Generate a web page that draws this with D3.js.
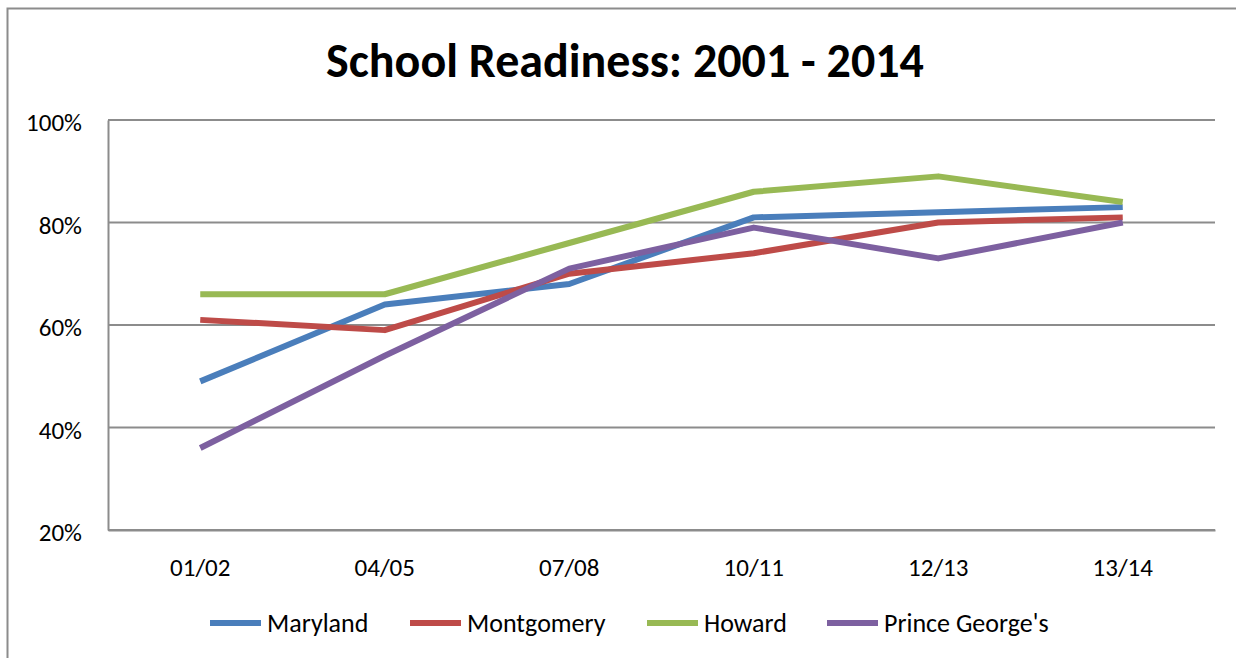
<!DOCTYPE html>
<html>
<head>
<meta charset="utf-8">
<script src="https://cdn.jsdelivr.net/npm/d3@7"></script>
<style>
  body { margin: 0; background: #fff; }
  svg { display: block; font-family: Carlito, "Liberation Sans Narrow", "Liberation Sans", sans-serif; }
</style>
</head>
<body>
<div id="root"></div>
<script>
const years = ["01/02", "04/05", "07/08", "10/11", "12/13", "13/14"];
const maryland = [49, 64, 68, 81, 82, 83];
const montgomery = [61, 59, 70, 74, 80, 81];
const howard = [66, 66, 76, 86, 89, 84];
const princeGeorges = [36, 54, 71, 79, 73, 80];
const yTicks = [20, 40, 60, 80, 100];

const seriesNames = ["Maryland", "Montgomery", "Howard", "Prince George's"];
const seriesValues = [maryland, montgomery, howard, princeGeorges];
const colors = ["#4a7ebb", "#be4b48", "#98b954", "#7d60a0"];

const W = 1236, H = 658;
const margin = { top: 120, right: 21, bottom: 128, left: 108 };
const width = W - margin.left - margin.right;
const height = H - margin.top - margin.bottom;

const svg = d3.select("#root").append("svg")
  .attr("width", W)
  .attr("height", H);

// outer chart border (only top and left show in the crop)
svg.append("path")
  .attr("d", `M7.5,${H} V8.5 H${W}`)
  .attr("fill", "none")
  .attr("stroke", "#8c8c8c")
  .attr("stroke-width", 2);

svg.append("text")
  .attr("x", 625)
  .attr("y", 77)
  .attr("text-anchor", "middle")
  .attr("font-size", 48)
  .attr("font-weight", "bold")
  .text("School Readiness: 2001 - 2014");

const x = d3.scaleBand().domain(years).range([margin.left, margin.left + width]);
const y = d3.scaleLinear().domain([20, 100]).range([margin.top + height, margin.top]);

// gridlines
svg.append("g").selectAll("line").data(yTicks).enter().append("line")
  .attr("x1", margin.left).attr("x2", margin.left + width)
  .attr("y1", d => y(d)).attr("y2", d => y(d))
  .attr("stroke", "#8c8c8c").attr("stroke-width", 2);

// y axis
const yAxis = d3.axisLeft(y).tickValues(yTicks).tickFormat(d => d + "%").tickSize(0).tickPadding(26);
const ya = svg.append("g").attr("transform", `translate(${margin.left},0)`).call(yAxis)
  .attr("font-family", null).attr("font-size", 25);
ya.select(".domain").attr("stroke", "#8c8c8c").attr("stroke-width", 2);
ya.selectAll("text").attr("fill", "#000").attr("dy", "0.42em");

// x axis
const xAxis = d3.axisBottom(x).tickSize(0).tickPadding(28);
const xa = svg.append("g").attr("transform", `translate(0,${margin.top + height})`).call(xAxis)
  .attr("font-family", null).attr("font-size", 25);
xa.select(".domain").attr("stroke", "#8c8c8c").attr("stroke-width", 2);
xa.selectAll("text").attr("fill", "#000");

// lines
const line = d3.line()
  .x((d, i) => x(years[i]) + x.bandwidth() / 2)
  .y(d => y(d));

svg.append("g").selectAll("path").data(seriesValues).enter().append("path")
  .attr("d", d => line(d))
  .attr("fill", "none")
  .attr("stroke", (d, i) => colors[i])
  .attr("stroke-width", 6)
  .attr("stroke-linejoin", "round");

// legend
const legendX = [210, 410, 647, 827];
const legend = svg.append("g").selectAll("g").data(seriesNames).enter().append("g")
  .attr("transform", (d, i) => `translate(${legendX[i]},623)`);
legend.append("line")
  .attr("x1", 0).attr("x2", 51)
  .attr("stroke", (d, i) => colors[i])
  .attr("stroke-width", 6);
legend.append("text")
  .attr("x", 57)
  .attr("dy", "0.36em")
  .attr("font-size", 26)
  .text(d => d);
</script>
</body>
</html>
